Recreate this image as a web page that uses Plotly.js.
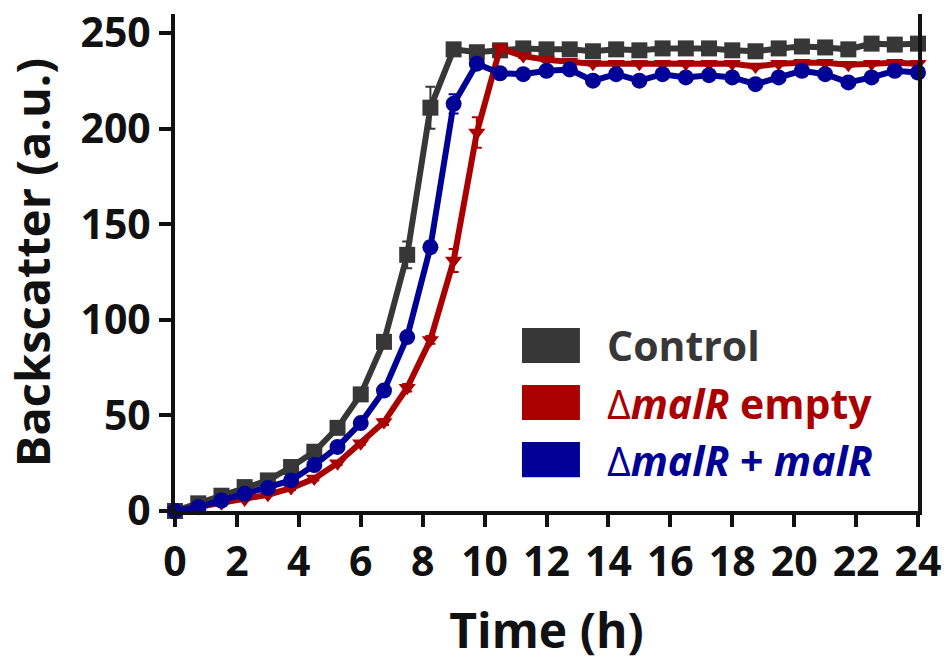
<!DOCTYPE html>
<html>
<head>
<meta charset="utf-8">
<script src="https://cdn.plot.ly/plotly-3.0.1.min.js"></script>
<style>html,body{margin:0;padding:0;background:#fff}#chart{width:946px;height:662px}</style>
</head>
<body>
<div id="chart"></div>
<script>
// Time points (h)
const timeH = [0, 0.75, 1.5, 2.25, 3, 3.75, 4.5, 5.25, 6, 6.75, 7.5, 8.25, 9, 9.75, 10.5, 11.25, 12, 12.75, 13.5, 14.25, 15, 15.75, 16.5, 17.25, 18, 18.75, 19.5, 20.25, 21, 21.75, 22.5, 23.25, 24];

// Backscatter (a.u.)
const controlVals = [0, 4, 8, 12.5, 16, 23, 31, 43.5, 61, 88.5, 134, 211, 241.5, 240, 241, 242, 241.5, 241.5, 240.5, 241.5, 241, 242, 242, 242, 241, 240.5, 242, 243, 242.5, 241.5, 244.5, 244, 244.5];
const controlErr  = [0, 0.5, 0.5, 0.5, 0.5, 1, 1, 1, 1.5, 2, 7, 11, 1.5, 1, 1, 1, 1, 1, 1, 1, 1, 1, 1, 1, 1, 1, 1, 1, 1, 1, 1, 1, 1];

const emptyVals = [0, 2, 4, 6, 8.5, 12, 17, 25, 35.5, 46.5, 64.5, 89.5, 131, 198, 242, 238, 236, 235, 234, 234, 234, 234, 234, 234, 234, 232.5, 234, 234.5, 234.5, 233.5, 234, 234.5, 234];
const emptyErr  = [0, 0.5, 0.5, 0.5, 0.5, 1, 1, 1, 1, 1.5, 2, 2, 6, 8, 2, 1, 1, 1, 1, 1, 1, 1, 1, 1, 1, 1, 1, 1, 1, 1, 1, 1, 1];

const complVals = [0, 2, 5.5, 9, 12, 16, 24, 33.5, 46, 63, 91, 138, 213, 234, 229, 228.5, 230.3, 231, 225.1, 228.5, 225.1, 228.5, 226.8, 228, 226.8, 223.3, 226.8, 230.3, 228.5, 224.2, 226.8, 230.3, 229.4];
const complErr  = [0, 0.5, 0.5, 0.5, 0.5, 1, 1, 1, 1, 1.5, 2, 3, 5, 2, 1, 1, 1, 1, 1, 1, 1, 1, 1, 1, 1, 1, 1, 1, 1, 1, 1, 1, 1];

const seriesNames = ["Control", "Δ<b><i>malR</i> empty</b>", "Δ<b><i>malR</i> + <i>malR</i></b>"];
const xTicks = [0, 2, 4, 6, 8, 10, 12, 14, 16, 18, 20, 22, 24];
const yTicks = [0, 50, 100, 150, 200, 250];

const cGray = "#373737", cRed = "#aa0000", cBlue = "#000096";
const FONT = "Open Sans, Lato, sans-serif";

function trace(y, err, color, symbol, size) {
  return {
    x: timeH, y: y, type: "scatter", mode: "lines+markers", cliponaxis: false,
    line: {color: color, width: 6},
    marker: {color: color, symbol: symbol, size: size},
    error_y: {type: "data", array: err, visible: true, color: color, thickness: 2, width: 5},
    showlegend: false, hoverinfo: "skip"
  };
}

const data = [
  trace(controlVals, controlErr, cGray, "square", 16),
  trace(emptyVals, emptyErr, cRed, "triangle-down", 15),
  trace(complVals, complErr, cBlue, "circle", 16)
];

const colors = [cGray, cRed, cBlue];
const rowY = [[0.298, 0.368], [0.183, 0.2535], [0.068, 0.139]];
const shapes = rowY.map((r, i) => ({
  type: "rect", xref: "paper", yref: "paper", x0: 0.467, x1: 0.545, y0: r[0], y1: r[1],
  fillcolor: colors[i], line: {width: 0}
}));
const annotations = seriesNames.map((name, i) => ({
  xref: "paper", yref: "paper", x: 0.5787, y: (rowY[i][0] + rowY[i][1]) / 2,
  xanchor: "left", yanchor: "middle", showarrow: false,
  text: i === 0 ? "<b>" + name + "</b>" : name,
  font: {family: FONT, size: 41, color: colors[i]}
}));

const layout = {
  width: 946, height: 662,
  margin: {l: 175, r: 28, t: 14, b: 151},
  paper_bgcolor: "#fff", plot_bgcolor: "#fff",
  showlegend: false,
  font: {family: FONT, color: "#111"},
  xaxis: {
    range: [0, 24], tickvals: xTicks, ticktext: xTicks.map(String),
    showgrid: false, zeroline: false, showline: true, linecolor: "#111", linewidth: 4,
    ticks: "outside", ticklen: 12, tickwidth: 4, tickcolor: "#111",
    tickfont: {family: FONT, size: 41, weight: "bold", color: "#111"},
    title: {text: "Time (h)", font: {family: FONT, size: 48, weight: "bold", color: "#111"}, standoff: 28}
  },
  yaxis: {
    range: [0, 260], tickvals: yTicks, ticktext: yTicks.map(String),
    showgrid: false, zeroline: false, showline: true, linecolor: "#111", linewidth: 4, mirror: true,
    ticks: "outside", ticklen: 12, tickwidth: 4, tickcolor: "#111",
    tickfont: {family: FONT, size: 41, weight: "bold", color: "#111"},
    title: {text: "Backscatter (a.u.)", font: {family: FONT, size: 47, weight: "bold", color: "#111"}, standoff: 20}
  },
  shapes: shapes,
  annotations: annotations
};

Plotly.newPlot("chart", data, layout, {displayModeBar: false, staticPlot: true});
</script>
</body>
</html>
